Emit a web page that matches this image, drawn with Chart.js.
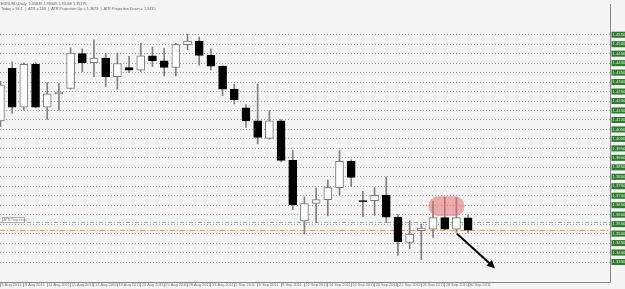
<!DOCTYPE html>
<html><head><meta charset="utf-8">
<script src="https://cdn.jsdelivr.net/npm/chart.js@4.4.1/dist/chart.umd.min.js"></script>
<style>html,body{margin:0;padding:0;background:#f4f4f4;overflow:hidden}canvas{display:block}</style>
</head><body>
<canvas id="c" width="625" height="289"></canvas>
<script>
const dates = ['5 Aug 2011','8 Aug 2011','9 Aug 2011','10 Aug 2011','11 Aug 2011','12 Aug 2011','15 Aug 2011','16 Aug 2011','17 Aug 2011','18 Aug 2011','19 Aug 2011','22 Aug 2011','23 Aug 2011','24 Aug 2011','25 Aug 2011','26 Aug 2011','29 Aug 2011','30 Aug 2011','31 Aug 2011','1 Sep 2011','2 Sep 2011','5 Sep 2011','6 Sep 2011','7 Sep 2011','8 Sep 2011','9 Sep 2011','12 Sep 2011','13 Sep 2011','14 Sep 2011','15 Sep 2011','16 Sep 2011','19 Sep 2011','20 Sep 2011','21 Sep 2011','22 Sep 2011','23 Sep 2011','26 Sep 2011','27 Sep 2011','28 Sep 2011','29 Sep 2011','30 Sep 2011'];
const opens  = [1.4095,1.4372,1.4168,1.4394,1.4168,1.4238,1.4266,1.4450,1.4403,1.4427,1.4329,1.4377,1.4363,1.4438,1.4412,1.4377,1.4498,1.4516,1.4441,1.4384,1.4263,1.4164,1.4095,1.4003,1.4095,1.3887,1.3567,1.3659,1.3679,1.3743,1.3882,1.3674,1.3674,1.3702,1.3587,1.3454,1.3515,1.3524,1.3584,1.3524,1.35839];
const highs  = [1.4304,1.4407,1.4401,1.4403,1.4298,1.4294,1.4481,1.4476,1.4523,1.4453,1.4453,1.4436,1.4505,1.4485,1.4479,1.4505,1.4554,1.4537,1.4476,1.4387,1.4289,1.4181,1.4289,1.4150,1.4102,1.3939,1.3693,1.3740,1.3783,1.3939,1.3889,1.3723,1.3743,1.3800,1.3601,1.3567,1.3550,1.3671,1.3691,1.3691,1.36009];
const lows   = [1.4065,1.4134,1.4152,1.4164,1.4103,1.4152,1.4263,1.4355,1.4329,1.4277,1.4263,1.4350,1.4355,1.4381,1.4332,1.4332,1.4471,1.4389,1.4363,1.4228,1.4185,1.4060,1.3973,1.3998,1.3878,1.3627,1.3498,1.3558,1.3593,1.3705,1.3748,1.3589,1.3596,1.3558,1.3385,1.3420,1.3363,1.3480,1.3520,1.3506,1.35068];
const closes = [1.4285,1.4168,1.4394,1.4168,1.4238,1.4247,1.4453,1.4403,1.4427,1.4329,1.4398,1.4363,1.4438,1.4412,1.4377,1.4498,1.4516,1.4441,1.4384,1.4263,1.4207,1.4095,1.4008,1.4095,1.3887,1.3653,1.3659,1.3679,1.3743,1.3882,1.3797,1.3667,1.3702,1.3587,1.3458,1.3498,1.3529,1.3584,1.3524,1.3584,1.35176];
const gridLevels = [1.3350,1.3400,1.3450,1.3500,1.3550,1.3600,1.3650,1.3700,1.3750,1.3800,1.3850,1.3900,1.3950,1.4000,1.4050,1.4100,1.4150,1.4200,1.4250,1.4300,1.4350,1.4400,1.4450,1.4500,1.4550];
const bidPrice = 1.35176;
const greenLevels = [1.3561];
const headerLine1 = 'EURUSD,Daily  1.35839 1.36009 1.35068 1.35176';
const headerLine2 = 'Today = 94.1  |  ATR = 166  |  ATR Projection Up = 1.3673  |  ATR Projection Down = 1.3435';
const levelLabel = 'ATRProjection';
const highlightZone = {fromBar: 36.6, toBar: 39.7, top: 1.3697, bottom: 1.3593};
const arrowFrom = {bar: 39.05, price: 1.3499};
const arrowTo = {bar: 42.3, price: 1.3317};

const FONT = 'Liberation Sans';
const bodies = dates.map((d,i)=>({x:i, y:[opens[i], closes[i]]}));
const wicks = dates.map((d,i)=>({x:i, y:[lows[i], highs[i]]}));
const up = dates.map((d,i)=>closes[i] >= opens[i]);

const overlay = {
  id:'overlay',
  beforeDraw(chart){
    const c = chart.ctx;
    c.save(); c.fillStyle = '#f4f4f4'; c.fillRect(0,0,chart.width,chart.height); c.restore();
  },
  beforeDatasetsDraw(chart){
    const c = chart.ctx, ys = chart.scales.y, a = chart.chartArea;
    c.save();
    greenLevels.forEach(v=>{
      const y = Math.round(ys.getPixelForValue(v)) + 0.5;
      c.strokeStyle = '#8cbf8c'; c.lineWidth = 1; c.setLineDash([4,2,1,2]);
      c.beginPath(); c.moveTo(a.left,y); c.lineTo(a.right,y); c.stroke();
    });
    const yb = Math.round(ys.getPixelForValue(bidPrice)) + 0.5;
    c.setLineDash([]); c.strokeStyle = 'rgba(250,215,170,0.5)'; c.lineWidth = 2;
    c.beginPath(); c.moveTo(a.left,yb); c.lineTo(a.right,yb); c.stroke();
    c.strokeStyle = '#e6a860'; c.lineWidth = 1; c.setLineDash([5,2,1,2]);
    c.beginPath(); c.moveTo(a.left,yb); c.lineTo(a.right,yb); c.stroke();
    c.setLineDash([]);
    const yl = ys.getPixelForValue(greenLevels[0]);
    c.fillStyle = '#ffffff'; c.strokeStyle = '#aaa'; c.lineWidth = 1;
    c.fillRect(2.5, yl-4.5, 22, 5); c.strokeRect(2.5, yl-4.5, 22, 5);
    c.fillStyle = '#777'; c.font = '3.6px ' + FONT; c.textBaseline = 'middle';
    c.fillText(levelLabel, 3.5, yl-2);
    c.restore();
  },
  afterDatasetsDraw(chart){
    const c = chart.ctx, xs = chart.scales.x, ys = chart.scales.y;
    c.save();
    const x0 = xs.getPixelForValue(highlightZone.fromBar), x1 = xs.getPixelForValue(highlightZone.toBar);
    const y0 = ys.getPixelForValue(highlightZone.top), y1 = ys.getPixelForValue(highlightZone.bottom);
    const r = (y1-y0)/2;
    c.fillStyle = 'rgba(225,110,110,0.55)';
    c.beginPath();
    c.moveTo(x0+r,y0); c.lineTo(x1-r,y0); c.arc(x1-r,y0+r,r,-Math.PI/2,Math.PI/2); c.lineTo(x0+r,y1); c.arc(x0+r,y0+r,r,Math.PI/2,Math.PI*1.5);
    c.closePath(); c.fill();
    const ax0 = xs.getPixelForValue(arrowFrom.bar), ay0 = ys.getPixelForValue(arrowFrom.price);
    const ax1 = xs.getPixelForValue(arrowTo.bar), ay1 = ys.getPixelForValue(arrowTo.price);
    const ang = Math.atan2(ay1-ay0, ax1-ax0);
    c.strokeStyle = '#000'; c.fillStyle = '#000'; c.lineWidth = 2;
    c.beginPath(); c.moveTo(ax0,ay0); c.lineTo(ax1-4*Math.cos(ang), ay1-4*Math.sin(ang)); c.stroke();
    c.beginPath(); c.moveTo(ax1,ay1);
    c.lineTo(ax1-8*Math.cos(ang)+4*Math.sin(ang), ay1-8*Math.sin(ang)-4*Math.cos(ang));
    c.lineTo(ax1-8*Math.cos(ang)-4*Math.sin(ang), ay1-8*Math.sin(ang)+4*Math.cos(ang));
    c.closePath(); c.fill();
    c.fillStyle = '#666'; c.font = '3.8px ' + FONT; c.textBaseline = 'top';
    c.fillText(headerLine1, 1, 2);
    c.fillText(headerLine2, 1, 7);
    c.restore();
  }
};

new Chart(document.getElementById('c'), {
  type: 'bar',
  data: {
    datasets: [
      {data: bodies, grouped:false, barThickness: 8, borderWidth: 1, borderSkipped: false,
       backgroundColor: up.map(u=>u?'#ffffff':'#000000'), borderColor: up.map(u=>u?'#777777':'#000000')},
      {data: wicks, grouped:false, barThickness: 1, borderWidth: 0, backgroundColor: '#808080'}
    ]
  },
  options: {
    responsive: false, animation: false, devicePixelRatio: 1,
    layout: {padding: 0},
    plugins: {legend:{display:false}, tooltip:{enabled:false}},
    scales: {
      x: {
        type: 'linear', min: -0.04, max: 52.18, offset: false,
        afterFit: s => { s.height = 7; },
        afterBuildTicks: s => { s.ticks = dates.map((d,i)=>i).filter(i=>i%2===0).map(v=>({value:v})); },
        ticks: {autoSkip:false, maxRotation:0, align:'start', padding:-4, color:'#777', font:{family:FONT, size:3.9},
                callback: v => ' ' + (dates[v] || '')},
        grid: {drawOnChartArea:false, drawTicks:true, tickLength:5, tickColor:'#aaa', offset:false},
        border: {display:true, color:'#888', width:1}
      },
      y: {
        position: 'right', min: 1.32445, max: 1.47095,
        afterFit: s => { s.width = 14.5; },
        afterBuildTicks: s => { s.ticks = gridLevels.map(v=>({value:v})); },
        ticks: {autoSkip:false, padding:2, color:'#d8f0d8', font:{family:FONT, size:4.2},
                showLabelBackdrop:true, backdropColor:'#2f7a2f', backdropPadding:{x:1,y:0.5},
                callback: v => v.toFixed(5)},
        grid: {color:'#a0a0a0', lineWidth:1, drawTicks:false},
        border: {display:true, color:'#888', width:1, dash:[1,2]}
      }
    }
  },
  plugins: [overlay]
});
</script>
</body></html>
